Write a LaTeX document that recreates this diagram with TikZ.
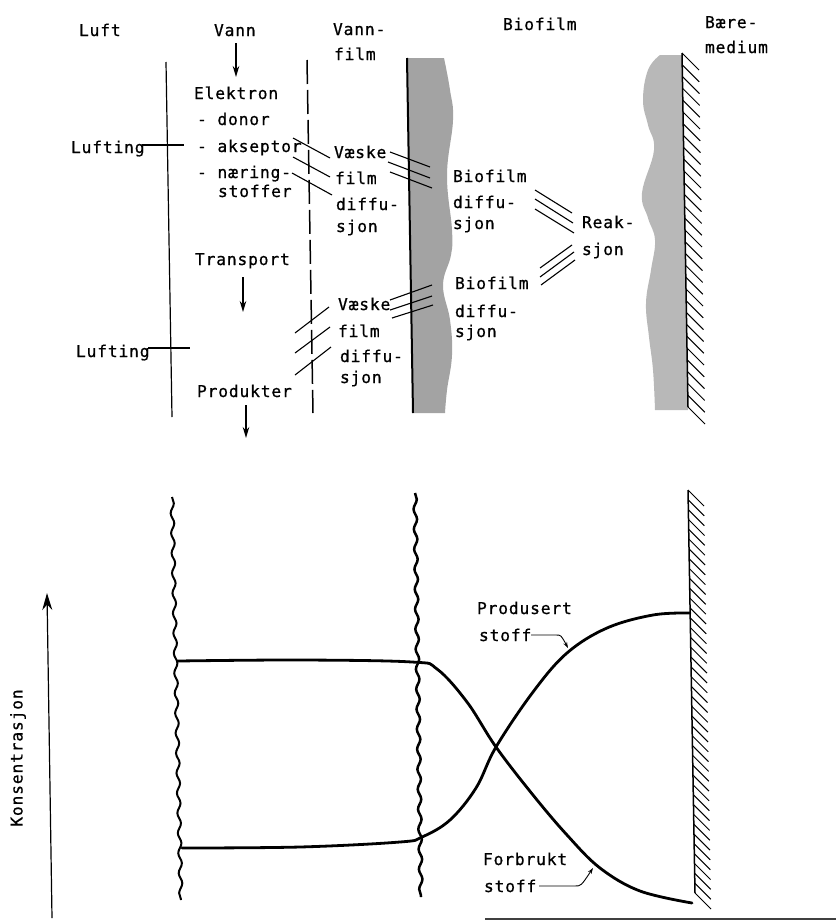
\documentclass[tikz,border=0pt]{standalone}
\usepackage{fontspec}
\newfontfamily\plotfont[LetterSpace=5,FakeBold=0.7]{DejaVu Sans Mono}
\usetikzlibrary{arrows.meta,decorations.pathmorphing,calc}
\begin{document}
\begin{tikzpicture}[x=1bp,y=-1bp,
  lbl/.style={anchor=base west,inner sep=0pt,outer sep=0pt,font=\plotfont\fontsize{16.3bp}{19bp}\selectfont},
  pline/.style={line width=1.2bp},
  crossline/.style={line width=1.1bp},
  curveline/.style={line width=2.8bp,line cap=round},
  wavyline/.style={line width=2bp,decorate,decoration={snake,amplitude=1.7bp,segment length=20bp}},
  hatchline/.style={line width=1bp},
  arr/.style={line width=1.4bp,-{Stealth[length=11bp,width=6.5bp]}},
  leader/.style={line width=0.9bp,-{Stealth[length=6bp,width=4bp]}},
  filmdark/.style={fill=black!36},
  filmlight/.style={fill=black!28},
]
\useasboundingbox (0,0) rectangle (836,921);

% ---------- upper part: layers ----------
% biofilm on the left boundary and on the carrier
\fill[filmdark] (407,58) -- (413,413) -- plot[smooth,tension=0.7] coordinates
  {(445,413) (447,390) (452,355) (450,320) (443,285) (451,255) (452,230) (447,175) (453,120) (450,90) (444,58)} -- cycle;
\fill[filmlight] (682,55) -- (688,410) -- plot[smooth,tension=0.7] coordinates
  {(655,410) (653,370) (649,337) (646,303) (651,270) (655,240) (648,218) (642,193) (654,150) (648,125) (643,100) (648,70) (660,55)} -- cycle;

% interfaces
\coordinate (airT) at (166,62);   \coordinate (airB) at (172,417);
\coordinate (dshT) at (307,60);   \coordinate (dshB) at (313,413);
\coordinate (bioT) at (407,58);   \coordinate (bioB) at (413,413);
\coordinate (wallT) at (682,53);  \coordinate (wallB) at (688,407);
\draw[pline] (airT) -- (airB);
\draw[line width=1.5bp,dash pattern=on 24bp off 6bp] (dshT) -- (dshB);
\draw[line width=2bp] (bioT) -- (bioB);
\draw[line width=1.5bp] (wallT) -- (wallB);
\foreach \i [evaluate=\i as \f using \i/30] in {0,...,30}
  \draw[hatchline] ($(wallT)!\f!(wallB)$) -- ++(17,17);

% column headings
\node[lbl] (hLuft) at (79,36) {Luft};
\node[lbl] (hVann) at (214,36) {Vann};
\node[lbl] (hVf1) at (333,35) {Vann-};
\node[lbl] (hVf2) at (334,60) {film};
\node[lbl] (hBio) at (503,30) {Biofilm};
\node[lbl] (hBm1) at (705,28) {Bære-};
\node[lbl] (hBm2) at (705,53) {medium};

% water column
\coordinate (aVannS) at (236,43); \coordinate (aVannE) at (236,77);
\draw[arr] (aVannS) -- (aVannE);
\node[lbl] (tElek) at (194,99) {Elektron};
\node[lbl] (tDon) at (197,125) {- donor};
\node[lbl] (tAks) at (197,152) {- akseptor};
\node[lbl] (tNar) at (197,178) {- næring-};
\node[lbl] (tStf) at (218,197) {stoffer};
\node[lbl] (tLuf1) at (71,153) {Lufting};
\coordinate (lf1a) at (143,145); \coordinate (lf1b) at (184,145);
\draw[pline] (lf1a) -- (lf1b);
\node[lbl] (tTrans) at (195,265) {Transport};
\coordinate (aTrS) at (243,277); \coordinate (aTrE) at (243,312);
\draw[arr] (aTrS) -- (aTrE);
\node[lbl] (tLuf2) at (76,357) {Lufting};
\coordinate (lf2a) at (148,348); \coordinate (lf2b) at (190,348);
\draw[pline] (lf2a) -- (lf2b);
\node[lbl] (tProd) at (197,397) {Produkter};
\coordinate (aPrS) at (246,405); \coordinate (aPrE) at (246,438);
\draw[arr] (aPrS) -- (aPrE);

% liquid film diffusion, upper group
\node[lbl] (vA1) at (334,158) {Væske};
\node[lbl] (vA2) at (335,184) {film};
\node[lbl] (vA3) at (336,210) {diffu-};
\node[lbl] (vA4) at (336,232) {sjon};
\draw[crossline] (293,138) -- (330,158);
\draw[crossline] (293,157) -- (330,177);
\draw[crossline] (292,173) -- (332,195);
\draw[crossline] (390,152) -- (430,167);
\draw[crossline] (388,162) -- (430,178);
\draw[crossline] (390,172) -- (432,188);

% liquid film diffusion, lower group
\node[lbl] (vB1) at (338,310) {Væske};
\node[lbl] (vB2) at (338,337) {film};
\node[lbl] (vB3) at (340,362) {diffu-};
\node[lbl] (vB4) at (340,383) {sjon};
\draw[crossline] (295,333) -- (329,307);
\draw[crossline] (295,353) -- (330,327);
\draw[crossline] (295,375) -- (331,347);
\draw[crossline] (390,300) -- (432,285);
\draw[crossline] (390,310) -- (432,296);
\draw[crossline] (392,318) -- (433,305);

% biofilm diffusion and reaction
\node[lbl] (bA1) at (453,182) {Biofilm};
\node[lbl] (bA2) at (453,208) {diffu-};
\node[lbl] (bA3) at (453,229) {sjon};
\node[lbl] (bB1) at (455,289) {Biofilm};
\node[lbl] (bB2) at (455,317) {diffu-};
\node[lbl] (bB3) at (455,337) {sjon};
\node[lbl] (rk1) at (582,228) {Reak-};
\node[lbl] (rk2) at (582,255) {sjon};
\draw[crossline] (535,190) -- (572,213);
\draw[crossline] (535,199) -- (573,223);
\draw[crossline] (535,209) -- (574,233);
\draw[crossline] (540,268) -- (572,245);
\draw[crossline] (540,277) -- (574,252);
\draw[crossline] (541,285) -- (575,260);

% ---------- lower part: concentration profiles ----------
\draw[wavyline] (172,497) -- (181,900);
\draw[wavyline,line width=2.5bp] (415,493) -- (421,897);
\coordinate (wall2T) at (688,490); \coordinate (wall2B) at (695,893);
\draw[line width=1.5bp] (wall2T) -- (wall2B);
\foreach \i [evaluate=\i as \f using \i/41] in {0,...,41}
  \draw[hatchline] ($(wall2T)!\f!(wall2B)$) -- ++(16,16);

% consumed substance
\draw[curveline] plot[smooth,tension=0.6] coordinates
  {(178,661) (300,660) (412,662) (437,669) (467,702) (496,747) (533,795) (567,835) (600,868) (640,891) (692,903)};
% produced substance
\draw[curveline] plot[smooth,tension=0.6] coordinates
  {(182,848) (300,847) (400,842) (422,837) (450,820) (476,788) (496,747) (533,692) (567,653) (607,628) (653,615) (690,613)};

\node[lbl] (pLbl1) at (477,614) {Produsert};
\node[lbl] (pLbl2) at (479,641) {stoff};
\coordinate (pl1) at (531,635); \coordinate (pl2) at (556,635); \coordinate (pl3) at (568,648);
\draw[leader] (pl1) -- (pl2) .. controls (561,635) .. (pl3);
\node[lbl] (fLbl1) at (483,865) {Forbrukt};
\node[lbl] (fLbl2) at (484,892) {stoff};
\coordinate (fl1) at (539,886); \coordinate (fl2) at (575,886); \coordinate (fl3) at (593,868);
\draw[leader] (fl1) -- (fl2) .. controls (581,886) .. (fl3);

% concentration axis
\coordinate (axB) at (52,918); \coordinate (axT) at (47,593);
\draw[line width=1.2bp,-{Stealth[length=17bp,width=10bp]}] (axB) -- (axT);
\node[font=\plotfont\fontsize{16.3bp}{19bp}\selectfont,rotate=90,inner sep=0pt] (axLbl) at (18,758) {Konsentrasjon};

% base line
\coordinate (baseL) at (485,919); \coordinate (baseR) at (836,919);
\draw[line width=1.5bp,black!75] (baseL) -- (baseR);
\end{tikzpicture}
\end{document}
